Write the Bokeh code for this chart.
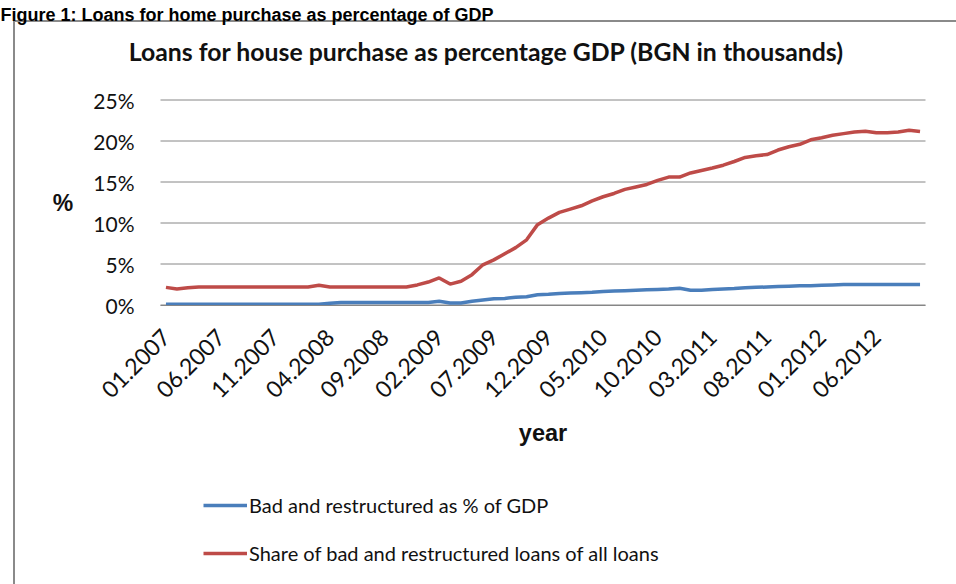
import math
from bokeh.plotting import figure
from bokeh.models import (Range1d, FixedTicker, PrintfTickFormatter, Legend,
                          LegendItem, Label)
from bokeh.embed import file_html
from bokeh.resources import INLINE

# ---------------- data ----------------
months = [f"{m:02d}.{y}" for y in range(2007, 2013) for m in range(1, 13)][:70]

bad_gdp = [0.08, 0.08, 0.08, 0.08, 0.08, 0.08, 0.08, 0.08, 0.08, 0.08,
           0.08, 0.08, 0.08, 0.08, 0.08, 0.2, 0.3, 0.3, 0.3, 0.3,
           0.3, 0.3, 0.3, 0.3, 0.3, 0.45, 0.25, 0.25, 0.45, 0.6,
           0.75, 0.8, 0.95, 1.0, 1.25, 1.3, 1.4, 1.45, 1.5, 1.55,
           1.65, 1.7, 1.75, 1.8, 1.85, 1.9, 1.95, 2.05, 1.8, 1.8,
           1.9, 1.95, 2.0, 2.1, 2.15, 2.2, 2.25, 2.3, 2.35, 2.35,
           2.4, 2.45, 2.5, 2.5, 2.5, 2.5, 2.5, 2.5, 2.5, 2.5]

bad_share = [2.15, 1.95, 2.1, 2.2, 2.2, 2.2, 2.2, 2.2, 2.2, 2.2,
             2.2, 2.2, 2.2, 2.2, 2.4, 2.2, 2.2, 2.2, 2.2, 2.2,
             2.2, 2.2, 2.2, 2.45, 2.8, 3.3, 2.55, 2.9, 3.7, 4.9,
             5.5, 6.25, 7.0, 7.95, 9.8, 10.6, 11.3, 11.7, 12.1, 12.7,
             13.2, 13.6, 14.1, 14.4, 14.7, 15.2, 15.6, 15.6, 16.1, 16.4,
             16.7, 17.05, 17.5, 18.0, 18.2, 18.35, 18.9, 19.3, 19.6, 20.15,
             20.4, 20.7, 20.9, 21.1, 21.2, 21.0, 21.0, 21.1, 21.3, 21.15]

y_ticks = [0, 5, 10, 15, 20, 25]
x_tick_idx = list(range(0, len(months), 5))

series_names = ["Bad and restructured as % of GDP",
                "Share of bad and restructured loans of all loans"]

heading = "Figure 1: Loans for home purchase as percentage of GDP"
chart_title = "Loans for house purchase as percentage  GDP (BGN in thousands)"

# ---------------- layout (pixels on the 956x584 canvas) ----------------
W, H = 956, 584
PLOT_L, PLOT_R = 160, 925      # plot-area edges
PLOT_T, PLOT_B = 99.5, 304.5   # y of top tick / zero line

x_lo, x_hi = -0.5, len(months) - 0.5
y_lo, y_hi = y_ticks[0], y_ticks[-1]
sx = (PLOT_R - PLOT_L) / (x_hi - x_lo)
sy = (PLOT_B - PLOT_T) / (y_hi - y_lo)
x_range = Range1d(x_lo - PLOT_L / sx, x_hi + (W - PLOT_R) / sx)
y_range = Range1d(y_lo - (H - PLOT_B) / sy, y_hi + PLOT_T / sy)

# ---------------- styling ----------------
FONT = "Lato"
BOLD_FONT = "Liberation Sans"
BLUE = "#4A7EBB"
RED = "#BE4B48"
GRID = "#868686"
FRAME_LINE = "#8a8a8a"
TXT = "#111111"

x = list(range(len(months)))

p = figure(width=W, height=H, output_backend="svg", toolbar_location=None,
           x_range=x_range, y_range=y_range, min_border=0)
p.title.visible = False
p.outline_line_color = None
p.background_fill_alpha = 0
p.border_fill_alpha = 0
p.xgrid.visible = False
p.ygrid.visible = False
# chart-area border (left and top edges), painted behind the transparent canvas
p.styles = {"background": (
    f"linear-gradient({FRAME_LINE},{FRAME_LINE}) 13px 20px / 2px 700px no-repeat, "
    f"linear-gradient({FRAME_LINE},{FRAME_LINE}) 13px 20px / 1200px 2px no-repeat, "
    "#ffffff")}

# horizontal gridlines across the plot area
p.segment(x0=[x_lo] * len(y_ticks), x1=[x_hi] * len(y_ticks),
          y0=y_ticks, y1=y_ticks, line_color=GRID, line_width=1)

# y axis, pinned to the left edge of the plot area
p.yaxis.fixed_location = x_lo
p.yaxis.bounds = (y_lo, y_hi)
p.yaxis.ticker = FixedTicker(ticks=y_ticks)
p.yaxis.formatter = PrintfTickFormatter(format="%d%%")
p.yaxis.axis_line_color = None
p.yaxis.major_tick_line_color = None
p.yaxis.minor_tick_line_color = None
p.yaxis.major_label_standoff = 20
p.yaxis.major_label_text_font = FONT
p.yaxis.major_label_text_font_size = "21px"
p.yaxis.major_label_text_color = TXT
p.yaxis.axis_label = "%"
p.yaxis.axis_label_orientation = "horizontal"
p.yaxis.axis_label_text_font = BOLD_FONT
p.yaxis.axis_label_text_font_style = "bold"
p.yaxis.axis_label_text_font_size = "23px"
p.yaxis.axis_label_text_color = TXT
p.yaxis.axis_label_standoff = 17

# x axis, pinned to the zero line
p.xaxis.fixed_location = y_lo
p.xaxis.bounds = (x_lo, x_hi)
p.xaxis.ticker = FixedTicker(ticks=x_tick_idx)
p.xaxis.major_label_overrides = {i: months[i] for i in x_tick_idx}
p.xaxis.major_label_orientation = math.pi / 4
p.xaxis.axis_line_color = GRID
p.xaxis.axis_line_width = 1
p.xaxis.major_tick_line_color = None
p.xaxis.minor_tick_line_color = None
p.xaxis.major_label_standoff = 22
p.xaxis.major_label_text_font = FONT
p.xaxis.major_label_text_font_size = "23px"
p.xaxis.major_label_text_color = TXT
p.xaxis.axis_label = "year"
p.xaxis.axis_label_text_font = BOLD_FONT
p.xaxis.axis_label_text_font_style = "bold"
p.xaxis.axis_label_text_font_size = "23.5px"
p.xaxis.axis_label_text_color = TXT
p.xaxis.axis_label_standoff = 11

# series
r1 = p.line(x, bad_gdp, line_color=BLUE, line_width=3.5)
r2 = p.line(x, bad_share, line_color=RED, line_width=3.5)

legend = Legend(items=[LegendItem(label=series_names[0], renderers=[r1]),
                       LegendItem(label=series_names[1], renderers=[r2])],
                location=(203, 19), orientation="vertical",
                glyph_width=44, glyph_height=24, label_height=24,
                spacing=24, padding=0, margin=0, label_standoff=2,
                border_line_color=None, background_fill_alpha=0,
                label_text_font=FONT, label_text_font_size="20px",
                label_text_color=TXT)
p.add_layout(legend)

# chart title
p.add_layout(Label(x=489, y=51, x_units="canvas", y_units="canvas",
                   text=chart_title, text_align="center", text_baseline="alphabetic",
                   text_font=FONT, text_font_style="bold", text_font_size="24.8px",
                   text_color=TXT))

# page heading
p.add_layout(Label(x=0, y=14, x_units="canvas", y_units="canvas",
                   text=heading, text_align="left", text_baseline="alphabetic",
                   text_font=BOLD_FONT, text_font_style="bold",
                   text_font_size="18px", text_color="#000000"))

open("out.html", "w").write(file_html(p, INLINE))
